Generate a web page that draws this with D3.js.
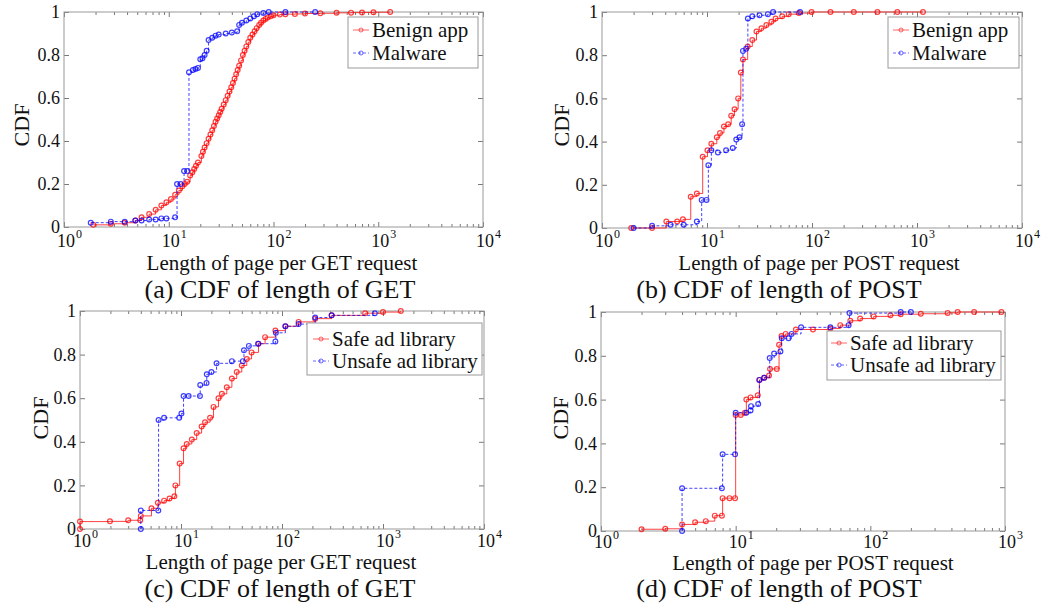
<!DOCTYPE html>
<html>
<head>
<meta charset="utf-8">
<script src="https://cdn.jsdelivr.net/npm/d3@7"></script>
<style>
body { margin: 0; background: #fff; }
svg { font-family: "Liberation Serif", "Times New Roman", serif; }
</style>
</head>
<body>
<svg id="chart" width="1041" height="608"></svg>
<script>
// [length, cdf]
var getBenign = [[1.9,0.01],[2.8,0.015],[3.8,0.02],[4.8,0.03],[5.5,0.045],[6.5,0.06],[7.5,0.08],[8.5,0.1],[9.5,0.115],[10.5,0.13],[11.5,0.15],[12.5,0.17],[13.5,0.19],[14.2,0.2],[15,0.21],[16,0.24],[16.8,0.255],[17.5,0.27],[18.2,0.285],[19,0.3],[20.5,0.33],[21.2,0.35],[22,0.37],[23,0.39],[24,0.41],[25,0.43],[26,0.45],[27,0.47],[28,0.49],[29,0.505],[30,0.52],[31,0.535],[32,0.55],[33.5,0.57],[35,0.59],[36.5,0.61],[38,0.63],[39.5,0.65],[41,0.67],[42.5,0.69],[44,0.71],[45.5,0.73],[47,0.75],[49,0.775],[51,0.8],[53,0.82],[55,0.84],[57.5,0.86],[60,0.88],[63,0.895],[66,0.91],[69,0.925],[73,0.94],[76,0.95],[80,0.96],[84,0.968],[88,0.975],[94,0.98],[100,0.985],[115,0.988],[130,0.99],[160,0.991],[200,0.993],[280,0.994],[400,0.996],[550,0.997],[700,0.998],[900,0.999],[1300,1.0]];
var getMalware = [[1.8,0.02],[2.8,0.025],[3.8,0.025],[4.8,0.03],[5.5,0.03],[6.5,0.035],[7.5,0.035],[8.5,0.04],[9.5,0.04],[11.5,0.045],[12,0.2],[13,0.2],[14,0.26],[15,0.26],[15.6,0.72],[17,0.73],[18,0.735],[19,0.74],[20,0.78],[21,0.785],[22,0.8],[23,0.82],[24,0.87],[26,0.88],[28,0.89],[30,0.895],[35,0.9],[40,0.905],[45,0.91],[47,0.94],[50,0.95],[55,0.96],[60,0.97],[65,0.98],[70,0.99],[80,0.995],[90,1.0],[130,1.0],[250,1.0]];

var postBenign = [[1.9,0],[3,0],[4.1,0.03],[5.2,0.03],[5.9,0.04],[7,0.145],[8,0.16],[9.1,0.33],[10.1,0.36],[11,0.39],[12.4,0.42],[13.3,0.44],[14.5,0.47],[15.9,0.48],[17,0.52],[18.3,0.55],[19.8,0.6],[21,0.72],[22,0.78],[24.4,0.84],[27,0.87],[29.6,0.91],[33,0.925],[36.8,0.94],[41,0.955],[45,0.97],[52,0.98],[60,0.99],[75,0.995],[99,1.0],[150,1.0],[250,1.0],[420,1.0],[650,1.0],[1140,1.0]];
var postMalware = [[2,0],[3,0.01],[4.5,0.015],[6,0.015],[8,0.03],[8.9,0.13],[9.9,0.13],[10.3,0.29],[11,0.36],[12.7,0.35],[15.2,0.36],[17.6,0.37],[19,0.41],[20.4,0.42],[21.6,0.48],[22,0.82],[23.6,0.83],[24.5,0.97],[27,0.98],[31.6,0.985],[38,0.99],[42.6,1.0],[77,1.0]];

var getSafe = [[1,0],[1,0.034],[1.98,0.035],[3,0.04],[3.95,0.04],[4,0.06],[5.1,0.095],[5.9,0.12],[6.8,0.13],[7.7,0.14],[8.6,0.15],[8.8,0.2],[9.7,0.3],[10.6,0.37],[11.4,0.39],[12.8,0.41],[14.3,0.44],[16,0.47],[17.3,0.49],[19.4,0.51],[21,0.56],[23.5,0.6],[25.4,0.62],[28.4,0.65],[31.9,0.69],[35.6,0.72],[40,0.75],[44.8,0.78],[50,0.81],[58.5,0.85],[68,0.88],[86,0.91],[108,0.93],[146,0.95],[213,0.965],[310,0.98],[665,0.99],[1000,0.995],[1500,1.0]];
var getUnsafe = [[4,0],[4,0.085],[5.96,0.085],[6,0.5],[6.8,0.51],[9.6,0.51],[10.1,0.53],[10.6,0.61],[11.9,0.61],[15.4,0.61],[15.5,0.66],[17.9,0.67],[18,0.71],[20,0.72],[22.5,0.76],[31.9,0.77],[41,0.77],[42,0.82],[47,0.84],[58,0.85],[86,0.86],[87,0.9],[108,0.93],[146,0.94],[213,0.97],[310,0.98],[830,0.99]];

var postSafe = [[2,0.008],[3,0.01],[4,0.03],[5,0.04],[6,0.045],[7,0.07],[7.9,0.07],[8,0.15],[9,0.15],[9.9,0.15],[10,0.53],[10.9,0.53],[11.7,0.54],[12,0.6],[12.9,0.61],[14.6,0.62],[15,0.69],[16.3,0.7],[17.7,0.71],[18,0.74],[20.2,0.74],[21,0.85],[21.9,0.89],[23.5,0.9],[28,0.92],[37.5,0.92],[50.5,0.925],[59.8,0.94],[71,0.96],[84,0.97],[106,0.98],[141,0.985],[168,0.99],[237,0.992],[375,0.996],[445,1.0],[590,1.0],[940,1.0]];
var postUnsafe = [[4,0],[4,0.195],[7.9,0.195],[8,0.35],[9.9,0.35],[10,0.54],[12,0.54],[12.9,0.55],[13,0.57],[14.7,0.58],[15,0.69],[16.3,0.7],[17.9,0.79],[19.3,0.81],[21.5,0.82],[22,0.88],[24.7,0.88],[26,0.9],[30.6,0.93],[50.5,0.93],[69,0.94],[70,0.995],[168,1.0],[200,1.0]];

var yTicks = [0, 0.2, 0.4, 0.6, 0.8, 1];
var seriesNames1 = ["Benign app", "Malware"];
var seriesNames2 = ["Safe ad library", "Unsafe ad library"];

var panels = [
  {l:64, r:483, t:12, b:227, xmax:1e4, s:[getBenign, getMalware], names:seriesNames1,
   xlabel:"Length of page per GET request", caption:"(a) CDF of length of GET",
   leg:{x:348, y:17, w:130, h:51, tx:372, b1:37, b2:60}, ylx:21, yly:125, tickY:247, xlY:270, xlX:282, capY:298, capX:280},
  {l:602, r:1022, t:12, b:228, xmax:1e4, s:[postBenign, postMalware], names:seriesNames1,
   xlabel:"Length of page per POST request", caption:"(b) CDF of length of POST",
   leg:{x:888, y:17, w:131, h:51, tx:912, b1:37, b2:60}, ylx:561, yly:125, tickY:247, xlY:270, xlX:819, capY:298, capX:779},
  {l:80, r:484, t:311, b:529, xmax:1e4, s:[getSafe, getUnsafe], names:seriesNames2,
   xlabel:"Length of page per GET request", caption:"(c) CDF of length of GET",
   leg:{x:307, y:323, w:175, h:52, tx:332, b1:346, b2:368}, ylx:40, yly:418, tickY:547, xlY:569, xlX:281, capY:597, capX:280},
  {l:601, r:1005, t:312, b:531, xmax:1e3, s:[postSafe, postUnsafe], names:seriesNames2,
   xlabel:"Length of page per POST request", caption:"(d) CDF of length of POST",
   leg:{x:827, y:331, w:174, h:49, tx:850, b1:350, b2:372}, ylx:560, yly:418, tickY:548, xlY:570, xlX:813, capY:597, capX:779}
];

var colors = ["#ff0000", "#0000ff"];
var dashes = [null, "3,2"];
var svg = d3.select("#chart");

panels.forEach(function(p){
  var x = d3.scaleLog().domain([1, p.xmax]).range([p.l, p.r]);
  var y = d3.scaleLinear().domain([0, 1]).range([p.b, p.t]);
  var g = svg.append("g");

  var major = [], minor = [];
  for (var e = 0; Math.pow(10, e) <= p.xmax; e++) {
    major.push(Math.pow(10, e));
    if (Math.pow(10, e) < p.xmax) for (var k = 2; k <= 9; k++) minor.push(k * Math.pow(10, e));
  }

  function styleAxis(sel){
    sel.select(".domain").remove();
    sel.selectAll("line").attr("stroke", "#555").attr("stroke-width", 0.8);
    sel.selectAll("text").remove();
  }
  g.append("g").attr("transform", "translate(0," + p.b + ")").call(d3.axisBottom(x).tickValues(major).tickSize(-5)).call(styleAxis);
  g.append("g").attr("transform", "translate(0," + p.b + ")").call(d3.axisBottom(x).tickValues(minor).tickSize(-3)).call(styleAxis);
  g.append("g").attr("transform", "translate(0," + p.t + ")").call(d3.axisTop(x).tickValues(major).tickSize(-5)).call(styleAxis);
  g.append("g").attr("transform", "translate(0," + p.t + ")").call(d3.axisTop(x).tickValues(minor).tickSize(-3)).call(styleAxis);
  g.append("g").attr("transform", "translate(" + p.r + ",0)").call(d3.axisRight(y).tickValues(yTicks).tickSize(-5)).call(styleAxis);

  var ya = g.append("g").attr("transform", "translate(" + p.l + ",0)")
    .call(d3.axisLeft(y).tickValues(yTicks).tickSize(-5).tickPadding(4)
      .tickFormat(function(d){ return (d === 0 || d === 1) ? String(d) : d.toFixed(1); }));
  ya.select(".domain").remove();
  ya.selectAll("line").attr("stroke", "#555").attr("stroke-width", 0.8);
  ya.selectAll("text").attr("font-size", 18).attr("fill", "#111")
    .attr("font-family", "Liberation Serif, serif").attr("dy", "0.32em");

  // frame
  g.append("rect").attr("x", p.l).attr("y", p.t).attr("width", p.r - p.l).attr("height", p.b - p.t)
    .attr("fill", "none").attr("stroke", "#999").attr("stroke-width", 1);

  // x tick labels 10^n
  major.forEach(function(v, i){
    var cx = x(v) + 2;
    g.append("text").attr("x", cx).attr("y", p.tickY).attr("text-anchor", "middle")
      .attr("font-size", 18).attr("fill", "#111").text("10");
    g.append("text").attr("x", cx + 10).attr("y", p.tickY - 9)
      .attr("font-size", 12).attr("fill", "#111").text(String(i));
  });

  // series
  var line = d3.line().x(function(d){ return x(d[0]); }).y(function(d){ return y(d[1]); }).curve(d3.curveStepAfter);
  p.s.forEach(function(data, si){
    g.append("path").datum(data).attr("d", line).attr("fill", "none")
      .attr("stroke", colors[si]).attr("stroke-opacity", 0.75).attr("stroke-width", 1)
      .attr("stroke-dasharray", dashes[si]);
    g.selectAll(".m" + si).data(data).enter().append("circle")
      .attr("cx", function(d){ return x(d[0]); }).attr("cy", function(d){ return y(d[1]); })
      .attr("r", 2.4).attr("fill", "none").attr("stroke", colors[si]).attr("stroke-opacity", 0.75).attr("stroke-width", 1.2);
  });

  // legend
  var L = p.leg;
  g.append("rect").attr("x", L.x).attr("y", L.y).attr("width", L.w).attr("height", L.h)
    .attr("fill", "#fff").attr("stroke", "#999").attr("stroke-width", 1);
  [L.b1, L.b2].forEach(function(by, si){
    var ly = by - 7;
    g.append("line").attr("x1", L.tx - 19).attr("x2", L.tx - 3).attr("y1", ly).attr("y2", ly)
      .attr("stroke", colors[si]).attr("stroke-opacity", 0.6).attr("stroke-dasharray", dashes[si]);
    g.append("circle").attr("cx", L.tx - 11).attr("cy", ly).attr("r", 2)
      .attr("fill", "none").attr("stroke", colors[si]).attr("stroke-opacity", 0.6);
    g.append("text").attr("x", L.tx).attr("y", by).attr("font-size", 21).attr("fill", "#111").text(p.names[si]);
  });

  // labels
  g.append("text").attr("transform", "translate(" + p.ylx + "," + p.yly + ") rotate(-90)")
    .attr("text-anchor", "middle").attr("dy", "0.35em").attr("font-size", 22).attr("fill", "#111").text("CDF");
  g.append("text").attr("x", p.xlX).attr("y", p.xlY).attr("text-anchor", "middle")
    .attr("font-size", 21).attr("fill", "#111").text(p.xlabel);
  g.append("text").attr("x", p.capX).attr("y", p.capY).attr("text-anchor", "middle")
    .attr("font-size", 26).attr("fill", "#111").text(p.caption);
});
</script>
</body>
</html>
